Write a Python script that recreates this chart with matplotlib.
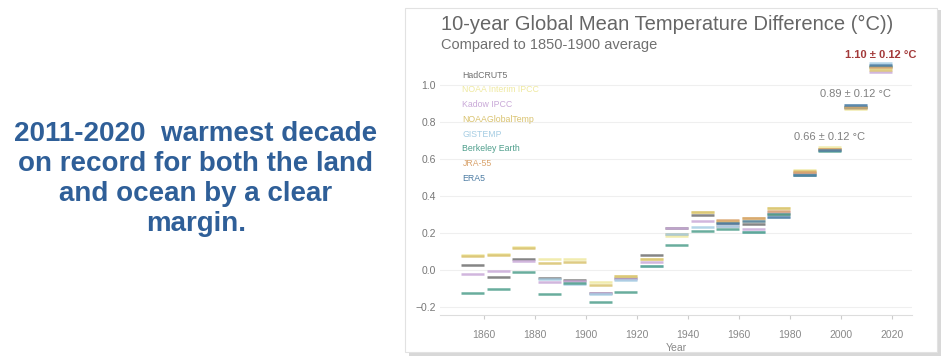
import numpy as np
import matplotlib
matplotlib.use("Agg")
from matplotlib import pyplot as plt
from matplotlib.patches import Rectangle

plt.rcParams['font.family'] = ['Liberation Sans', 'DejaVu Sans']

nan = np.nan
# decade start years (1851-1860 ... 2011-2020)
decades = list(range(1851, 2021, 10))

names = ["HadCRUT5", "NOAA Interim IPCC", "Kadow IPCC", "NOAAGlobalTemp",
         "GISTEMP", "Berkeley Earth", "JRA-55", "ERA5"]
colors = ["#707070", "#efe9a0", "#c9a9d8", "#d9c26e",
          "#a6cde3", "#4f9f8c", "#d9a36d", "#4d7ca3"]

hadcrut5 = [0.025, -0.04, 0.06, -0.047, -0.055, -0.127, -0.045, 0.079, 0.228,
            0.294, 0.254, 0.245, 0.30, 0.523, 0.653, 0.88, 1.10]
noaa_interim = [0.079, 0.084, 0.125, 0.057, 0.06, -0.065, -0.035, 0.057, 0.18,
                0.315, 0.237, 0.265, 0.333, 0.538, 0.663, 0.87, 1.09]
kadow = [-0.025, -0.007, 0.047, -0.065, -0.06, -0.125, -0.05, 0.04, 0.228,
         0.265, 0.237, 0.222, 0.31, 0.52, 0.648, 0.875, 1.068]
noaaglobaltemp = [0.075, 0.08, 0.12, 0.034, 0.04, -0.083, -0.035, 0.057, 0.195,
                  0.315, 0.262, 0.28, 0.333, 0.535, 0.655, 0.875, 1.08]
gistemp = [nan, nan, nan, -0.05, -0.077, -0.13, -0.055, 0.022, 0.195,
           0.23, 0.237, 0.204, 0.287, 0.513, 0.648, 0.89, 1.118]
berkeley = [-0.125, -0.104, -0.01, -0.133, -0.07, -0.175, -0.118, 0.022, 0.136,
            0.21, 0.222, 0.204, 0.30, 0.513, 0.642, 0.88, 1.104]
jra55 = [nan] * 10 + [0.267, 0.28, 0.32, 0.53, 0.655, 0.88, 1.098]
era5 = [nan] * 10 + [0.254, 0.265, 0.287, 0.513, 0.65, 0.89, 1.11]
series = [hadcrut5, noaa_interim, kadow, noaaglobaltemp, gistemp, berkeley, jra55, era5]

notes = ["0.66 ± 0.12 °C", "0.89 ± 0.12 °C", "1.10 ± 0.12 °C"]
note_values = [0.66, 0.89, 1.10]
note_decades = [1991, 2001, 2011]
note_colors = ["#808080", "#808080", "#a33a3a"]

fig = plt.figure(figsize=(9.42, 3.6), dpi=100)

# left side message
fig.text(0.208, 0.502, "2011-2020  warmest decade\non record for both the land\nand ocean by a clear\nmargin.",
         ha="center", va="center", fontsize=20, fontweight="bold", color="#2f5f98", linespacing=1.2)

# white card with a soft shadow
fig.patches.append(Rectangle((409 / 942, 4 / 360), 532 / 942, 346 / 360, transform=fig.transFigure,
                             facecolor="#d8d8d8", edgecolor="none", zorder=0))
fig.patches.append(Rectangle((405 / 942, 8 / 360), 532 / 942, 344 / 360, transform=fig.transFigure,
                             facecolor="white", edgecolor="#e2e2e2", linewidth=0.8, zorder=1))

ax = fig.add_axes([440 / 942, 0.125, 472 / 942, 0.721])
ax.set_zorder(3)
ax.set_facecolor("none")
ax.set_xlim(1842.7, 2027.8)
ax.set_ylim(-0.245, 1.16)

for vals, c in zip(series, colors):
    for d, v in zip(decades, vals):
        if not np.isnan(v):
            ax.hlines(v, d, d + 9, colors=c, linewidth=1.8, alpha=0.85, zorder=3)

for txt, v, d, c in zip(notes, note_values, note_decades, note_colors):
    ax.text(d + 4.5, v + 0.06, txt, ha="center", va="center", fontsize=8, color=c,
            fontweight="bold" if c != "#808080" else "normal")

for i, (n, c) in enumerate(zip(names, colors)):
    ax.text(1851.5, 1.054 - i * 0.08, n, ha="left", va="center", fontsize=6.3, color=c)

ax.set_yticks([-0.2, 0.0, 0.2, 0.4, 0.6, 0.8, 1.0])
ax.set_yticklabels(["\u22120.2", "0.0", "0.2", "0.4", "0.6", "0.8", "1.0"])
ax.set_xticks(range(1860, 2021, 20))
ax.grid(axis="y", color="#efefef", linewidth=0.8)
ax.tick_params(axis="y", length=0, labelsize=7.5, labelcolor="#777777", pad=3)
ax.tick_params(axis="x", length=3, color="#cccccc", labelsize=7.5, labelcolor="#888888", pad=8)
for s in ["top", "right", "left"]:
    ax.spines[s].set_visible(False)
ax.spines["bottom"].set_color("#dddddd")
ax.set_xlabel("Year", fontsize=7.5, color="#888888", labelpad=2)

fig.text(441 / 942, 1 - 24 / 360, "10-year Global Mean Temperature Difference (°C))",
         ha="left", va="center", fontsize=14.5, color="#666666", zorder=4)
fig.text(441 / 942, 1 - 45 / 360, "Compared to 1850-1900 average",
         ha="left", va="center", fontsize=10.5, color="#707070", zorder=4)

plt.savefig("out.png", dpi=100)
